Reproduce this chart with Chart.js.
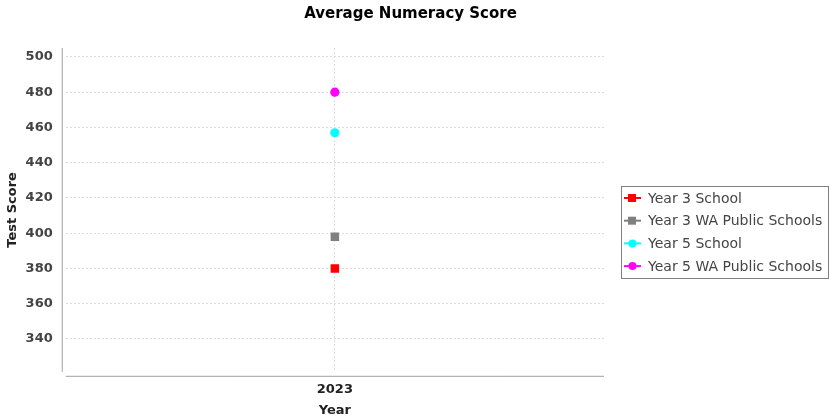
<!DOCTYPE html>
<html>
<head>
<meta charset="utf-8">
<script src="https://cdn.jsdelivr.net/npm/chart.js@4/dist/chart.umd.min.js"></script>
<style>
    html, body { margin: 0; padding: 0; background: #fff; }
    #wrap { width: 829px; height: 419px; }
</style>
</head>
<body>
<div id="wrap"><canvas id="chart" width="829" height="419"></canvas></div>
<script>
const chartTitle = "Average Numeracy Score";
const years = ["2023"];
const seriesNames = ["Year 3 School", "Year 3 WA Public Schools", "Year 5 School", "Year 5 WA Public Schools"];
const year3School = [380];
const year3Public = [398];
const year5School = [457];
const year5Public = [480];
const yTicks = [340, 360, 380, 400, 420, 440, 460, 480, 500];

const colors = ["#ff0000", "#808080", "#00ffff", "#ff00ff"];
const shapes = ["rect", "rect", "circle", "circle"];

// title centred on the whole canvas, not only the plot
const pageTitlePlugin = {
    id: "pageTitle",
    afterDraw(chart) {
        const ctx = chart.ctx;
        ctx.save();
        ctx.font = "bold 15px 'DejaVu Sans'";
        ctx.fillStyle = "#000";
        ctx.textAlign = "center";
        ctx.textBaseline = "middle";
        ctx.fillText(chartTitle, chart.width / 2 - 4, 14);
        ctx.restore();
    }
};

// axis lines sit a few px off the plot, like the original
const axisLinesPlugin = {
    id: "axisLines",
    afterDraw(chart) {
        const ctx = chart.ctx;
        const area = chart.chartArea;
        ctx.save();
        ctx.strokeStyle = "#a0a0a0";
        ctx.lineWidth = 1;
        ctx.beginPath();
        ctx.moveTo(area.left - 3.5, area.top);
        ctx.lineTo(area.left - 3.5, area.bottom);
        ctx.moveTo(area.left, area.bottom + 4.5);
        ctx.lineTo(area.right, area.bottom + 4.5);
        ctx.stroke();
        ctx.restore();
    }
};

const boxLegendPlugin = {
    id: "boxLegend",
    afterDraw(chart) {
        const ctx = chart.ctx;
        const left = 621, top = 186, width = 207, height = 92;
        ctx.save();
        ctx.strokeStyle = "#808080";
        ctx.lineWidth = 1;
        ctx.strokeRect(left + 0.5, top + 0.5, width, height);
        ctx.font = "14px 'DejaVu Sans'";
        ctx.textBaseline = "middle";
        chart.data.datasets.forEach((ds, i) => {
            const y = top + 12 + i * 22.7;
            ctx.strokeStyle = ds.borderColor;
            ctx.lineWidth = 2;
            ctx.beginPath();
            ctx.moveTo(624, y);
            ctx.lineTo(641, y);
            ctx.stroke();
            ctx.fillStyle = ds.backgroundColor;
            if (ds.pointStyle === "rect") {
                ctx.fillRect(628, y - 4, 8, 8);
            } else {
                ctx.beginPath();
                ctx.arc(632.5, y, 4, 0, Math.PI * 2);
                ctx.fill();
            }
            ctx.fillStyle = "#444";
            ctx.fillText(ds.label, 648, y + 1);
        });
        ctx.restore();
    }
};

const seriesValues = [year3School, year3Public, year5School, year5Public];

new Chart(document.getElementById("chart"), {
    type: "line",
    data: {
        labels: years,
        datasets: seriesNames.map((name, i) => ({
            label: name,
            data: seriesValues[i],
            borderColor: colors[i],
            backgroundColor: colors[i],
            pointStyle: shapes[i],
            pointRadius: shapes[i] === "rect" ? 6 : 4.6,
            pointBorderWidth: 0,
            showLine: false
        }))
    },
    options: {
        responsive: false,
        animation: false,
        layout: {
            padding: { left: 5, right: 225, top: 48, bottom: 1 }
        },
        plugins: {
            legend: { display: false },
            tooltip: { enabled: false },
            title: { display: false }
        },
        scales: {
            x: {
                offset: true,
                border: { display: false, dash: [2, 2] },
                grid: {
                    color: "#dcdcdc",
                    drawTicks: false
                },
                ticks: {
                    color: "#222",
                    padding: 10,
                    font: { family: "'DejaVu Sans'", size: 13, weight: "bold" }
                },
                title: {
                    display: true,
                    text: "Year",
                    color: "#222",
                    font: { family: "'DejaVu Sans'", size: 13, weight: "bold" },
                    padding: { top: -5, bottom: 0 }
                }
            },
            y: {
                min: 321.3,
                max: 505.1,
                border: { display: false, dash: [2, 2] },
                grid: {
                    color: "#dcdcdc",
                    drawTicks: false
                },
                afterBuildTicks(axis) {
                    axis.ticks = yTicks.map(v => ({ value: v }));
                },
                ticks: {
                    color: "#444",
                    padding: 13,
                    font: { family: "'DejaVu Sans'", size: 13, weight: "bold" }
                },
                title: {
                    display: true,
                    text: "Test Score",
                    color: "#222",
                    font: { family: "'DejaVu Sans'", size: 13, weight: "bold" },
                    padding: { top: 0, bottom: -8 }
                }
            }
        }
    },
    plugins: [pageTitlePlugin, axisLinesPlugin, boxLegendPlugin]
});
</script>
</body>
</html>
